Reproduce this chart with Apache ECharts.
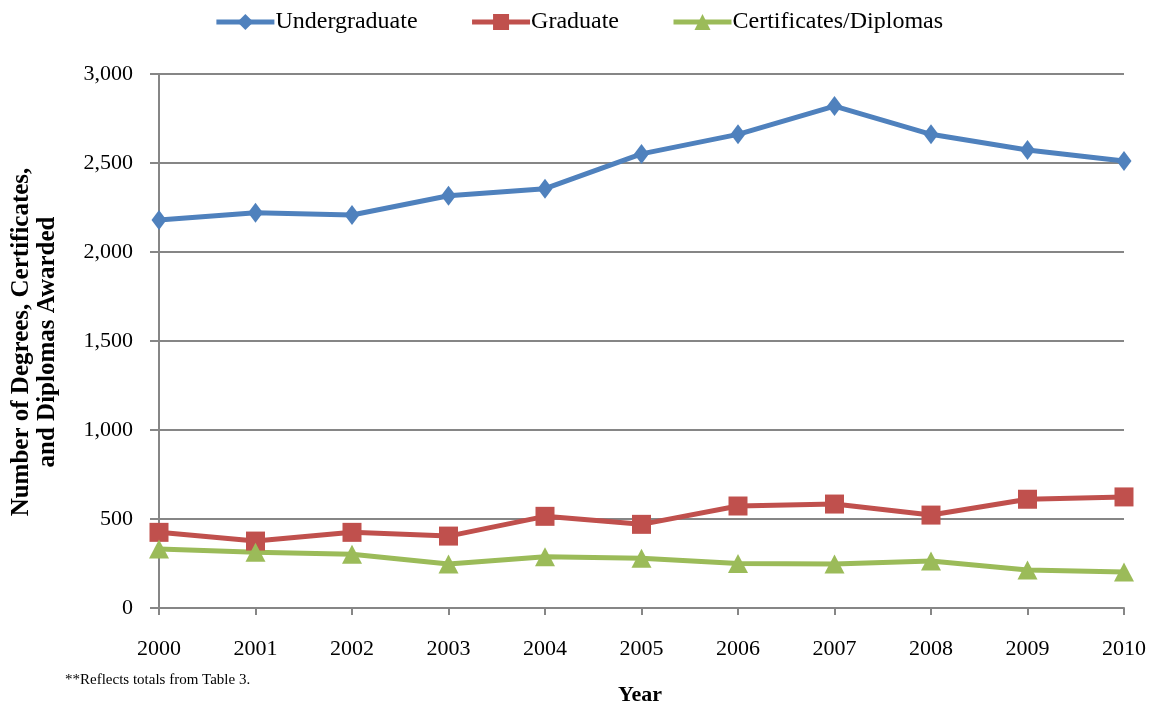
<!DOCTYPE html>
<html lang="en">
<head>
    <meta charset="UTF-8">
    <script type="text/javascript" src="https://cdn.jsdelivr.net/npm/echarts@6/dist/echarts.min.js"></script>
    <title>Degrees Awarded</title>
    <style>
        html, body {margin: 0; padding: 0; background: #fff;}
    </style>
</head>
<body>

<div style="width: 1157px;height: 709px" id="degreeChart"></div>

<script>
    var years = ['2000','2001','2002','2003','2004','2005','2006','2007','2008','2009','2010'];
    var undergraduate = [2180, 2221, 2208, 2316, 2356, 2551, 2661, 2820, 2661, 2573, 2511];
    var graduate = [425, 376, 425, 404, 515, 470, 573, 584, 522, 611, 624];
    var certificates = [331, 313, 302, 247, 288, 279, 250, 247, 264, 213, 202];

    var fontName = '"Liberation Serif", "DejaVu Serif", serif';
    var axisGray = '#868686';

    var mCharts = echarts.init(document.getElementById("degreeChart"));

    var option = {
        animation: false,
        textStyle: {fontFamily: fontName},
        legend: {
            top: 5,
            left: 'center',
            itemWidth: 58,
            itemHeight: 20,
            itemGap: 52,
            lineStyle: {width: 5},
            textStyle: {fontFamily: fontName, fontSize: 24, color: '#000', padding: [0, 0, 0, -4]},
            data: ['Undergraduate', 'Graduate', 'Certificates/Diplomas']
        },
        grid: {
            left: 159,
            right: 33,
            top: 74,
            bottom: 101
        },
        xAxis: {
            type: 'category',
            data: years,
            boundaryGap: false,
            axisLine: {lineStyle: {color: axisGray, width: 2}},
            axisTick: {show: true, alignWithLabel: true, length: 7, lineStyle: {color: axisGray, width: 2}},
            axisLabel: {color: '#000', fontSize: 22, margin: 30, fontFamily: fontName}
        },
        yAxis: {
            type: 'value',
            min: 0,
            max: 3000,
            interval: 500,
            axisLine: {show: true, lineStyle: {color: axisGray, width: 2}},
            axisTick: {show: true, length: 9, lineStyle: {color: axisGray, width: 2}},
            splitLine: {lineStyle: {color: axisGray, width: 2}},
            axisLabel: {
                color: '#000', fontSize: 22, margin: 26, fontFamily: fontName,
                formatter: function (v) {
                    return v.toLocaleString('en-US');
                }
            }
        },
        graphic: [
            {
                type: 'text',
                x: 22, y: 342,
                rotation: Math.PI / 2,
                style: {
                    text: 'Number of Degrees, Certificates,',
                    font: 'bold 25px "Liberation Serif", serif',
                    fill: '#000',
                    textAlign: 'center',
                    textVerticalAlign: 'middle'
                }
            },
            {
                type: 'text',
                x: 48, y: 342,
                rotation: Math.PI / 2,
                style: {
                    text: 'and Diplomas Awarded',
                    font: 'bold 25px "Liberation Serif", serif',
                    fill: '#000',
                    textAlign: 'center',
                    textVerticalAlign: 'middle'
                }
            },
            {
                type: 'text',
                x: 640, y: 695,
                style: {
                    text: 'Year',
                    font: 'bold 22px "Liberation Serif", serif',
                    fill: '#000',
                    textAlign: 'center',
                    textVerticalAlign: 'middle'
                }
            },
            {
                type: 'text',
                x: 65, y: 680,
                style: {
                    text: '**Reflects totals from Table 3.',
                    font: '15px "Liberation Serif", serif',
                    fill: '#000',
                    textAlign: 'left',
                    textVerticalAlign: 'middle'
                }
            }
        ],
        series: [
            {
                name: 'Undergraduate',
                type: 'line',
                data: undergraduate,
                symbol: 'diamond',
                symbolSize: [15, 20],
                lineStyle: {color: '#4F81BD', width: 5},
                itemStyle: {color: '#4F81BD'}
            },
            {
                name: 'Graduate',
                type: 'line',
                data: graduate,
                symbol: 'rect',
                symbolSize: 19,
                lineStyle: {color: '#C0504D', width: 5},
                itemStyle: {color: '#C0504D'}
            },
            {
                name: 'Certificates/Diplomas',
                type: 'line',
                data: certificates,
                symbol: 'triangle',
                symbolSize: [20, 19],
                lineStyle: {color: '#9BBB59', width: 5},
                itemStyle: {color: '#9BBB59'}
            }
        ]
    };

    mCharts.setOption(option);
</script>

</body>
</html>
